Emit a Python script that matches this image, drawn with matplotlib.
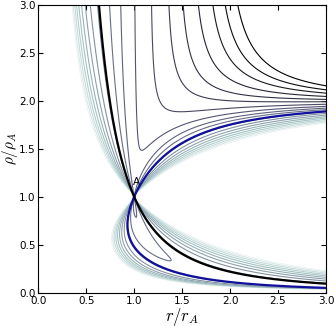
import numpy as np
import matplotlib
matplotlib.use('Agg')
import matplotlib.pyplot as plt
import contourpy

# cold magnetised wind, energy E(r, rho) in units of the Alfven point
u2 = 0.225         # (v_r / Omega r_A)^2 at the Alfven point
e_sep = 0.99       # energy of the two thick solutions through A
levels = [-0.843, -0.641, -0.454, -0.249, -0.049, 0.125, 0.323, 0.505, 0.665, 0.81,
          1.02, 1.21, 1.40, 1.59, 1.78, 1.97, 2.16, 2.35, 2.54, 2.73]
ticks = [0.0, 0.5, 1.0, 1.5, 2.0, 2.5, 3.0]
point_a = (1.0, 1.0)


def energy(r, rho):
    vphi = (1 - rho * r**2) / (r * (1 - rho))
    return u2 / (2 * rho**2 * r**4) + 0.5 * vphi**2 + rho * (r**2 - 1) / (1 - rho)


plt.rcParams['mathtext.fontset'] = 'cm'

# grid placed so that no node sits on rho = 1 or on A
r = 0.00125 + 0.0025 * np.arange(1202)
rho = 0.00125 + 0.0025 * np.arange(1202)
R, P = np.meshgrid(r, rho)
E = energy(R, P)

fig = plt.figure(figsize=(3.35, 3.26), dpi=100)
ax = fig.add_axes([0.1143, 0.102, 0.8587, 0.883])

ax.contour(R, P, E, levels=levels, cmap='bone', linewidths=0.8)

# split the separatrix level at A: falling branch black, rising branch blue
gen = contourpy.contour_generator(R, P, E)
for seg in gen.lines(e_sep):
    d = np.hypot(seg[:, 0] - point_a[0], seg[:, 1] - point_a[1])
    i = np.argmin(d)
    pieces = [seg[:i + 1][::-1], seg[i:]] if d[i] < 0.02 else [seg]
    for pc in pieces:
        if len(pc) < 2:
            continue
        # every piece now starts at A; look at it a short way out
        dd = np.hypot(pc[:, 0] - point_a[0], pc[:, 1] - point_a[1])
        far = np.nonzero(dd > 0.08)[0]
        j = far[0] if len(far) else len(pc) - 1
        falling = (pc[j, 0] - point_a[0]) * (pc[j, 1] - point_a[1]) < 0
        ax.plot(pc[:, 0], pc[:, 1], color='k' if falling else '#10109a', lw=1.6)

ax.text(1.02, 1.10, 'A', fontsize=7.5, ha='center', va='bottom')

ax.set_xlim(0, 3)
ax.set_ylim(0, 3)
ax.set_xticks(ticks)
ax.set_yticks(ticks)
ax.tick_params(direction='in', top=True, right=True, labelsize=7.5, length=3.5, pad=2)
ax.set_xlabel(r'$r/r_A$', fontsize=12, labelpad=0)
ax.set_ylabel(r'$\rho/\rho_A$', fontsize=11, labelpad=-1)

fig.savefig('out.png', dpi=100)
